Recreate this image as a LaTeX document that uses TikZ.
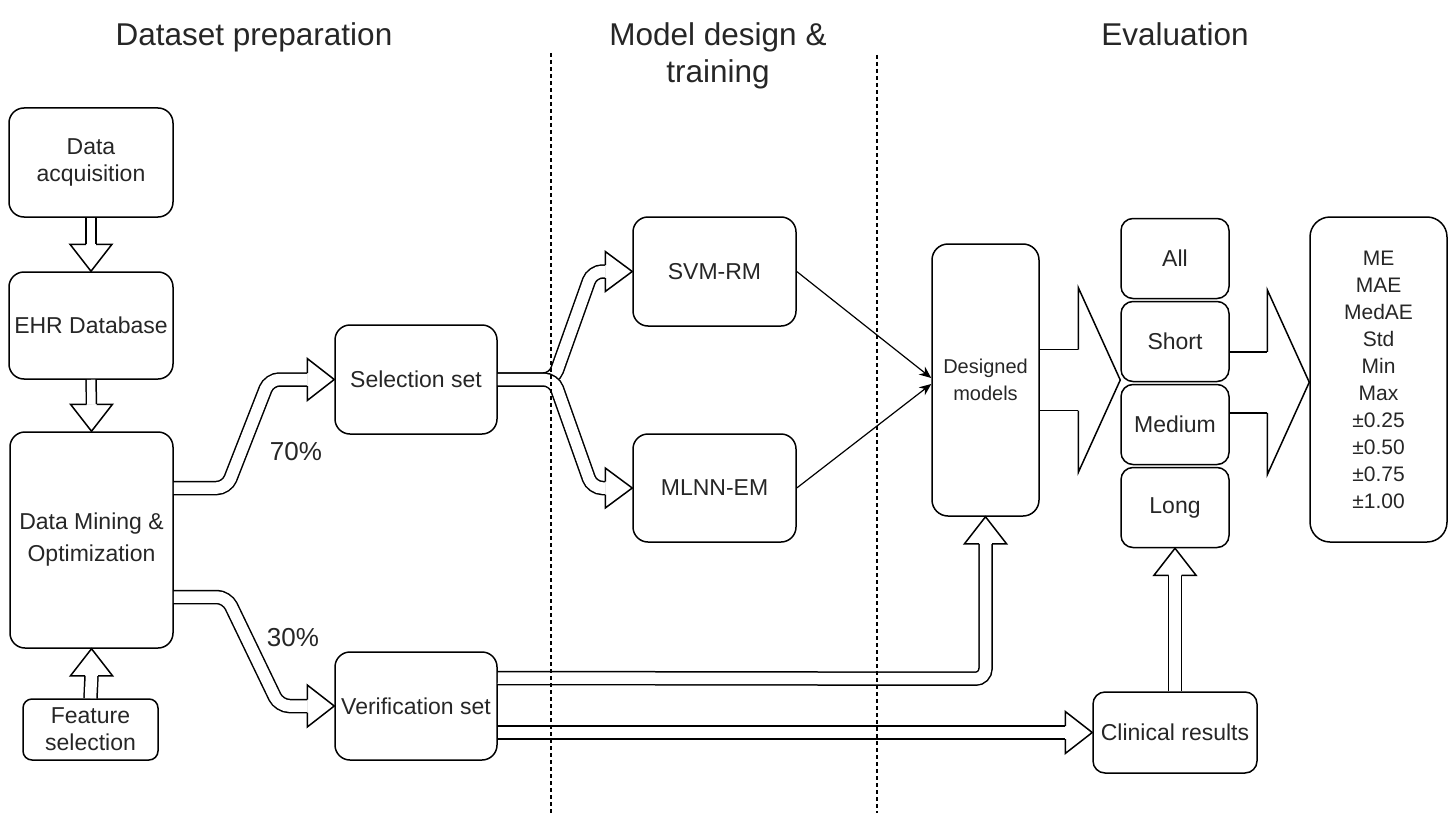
\documentclass[tikz,border=0pt]{standalone}
\usepackage{fontspec}
\setmainfont{Liberation Sans}
\usetikzlibrary{arrows.meta}
\usetikzlibrary{calc}
\usetikzlibrary{chains}
\usetikzlibrary{positioning}

\tikzset{
	pics/flexhead/.style n args={3}{code={
		\fill[white] (0pt,0pt) -- (-#2,#1) -- (-#2,-#1) -- cycle;
		\draw[line join=miter] (-#2,#3) -- (-#2,#1) -- (0pt,0pt) -- (-#2,-#1) -- (-#2,-#3);
	}},
}

\begin{document}
\begin{tikzpicture}[
	x=0.5pt, y=-0.5pt,
	line width=0.75pt,
	start chain=going below,
	node distance=0.75pt,
	box/.style={
		draw,
		rounded corners=7.5pt,
		align=center,
		inner sep=0pt,
		text=black!85,
		font=\fontsize{11.5}{13.5}\selectfont,
	},
	stackbox/.style={
		box,on chain,
		rounded corners=6pt,
		minimum width=54pt,
		minimum height=40pt,
	},
	title/.style={anchor=north,align=center,text=black!85,font=\fontsize{15.75}{18.5}\selectfont},
	share/.style={text=black!85,font=\fontsize{13}{15}\selectfont},
	flex/.style={double=white,double distance=#1,rounded corners=5pt},
	flex/.default=5.75pt,
	wideflex/.style={double=white,double distance=29.75pt},
	link/.style={line width=0.6pt,-{Stealth[length=6pt,width=5pt]}},
	divider/.style={line width=0.6pt,dash pattern=on 2pt off 1.5pt},
]
\useasboundingbox (0,0) rectangle (1450,813);

% column titles
\node[title] (t1) at (254,15) {Dataset preparation};
\node[title] (t2) at (718,15) {Model design \&\\training};
\node[title] (t3) at (1175,15) {Evaluation};

% dataset preparation
\node[box,minimum width=82pt,minimum height=54.5pt] (acq) at (91,162.5) {Data\\acquisition};
\node[box,minimum width=82pt,minimum height=53.5pt] (ehr) at (91,325.5) {EHR Database};
\node[box,minimum width=81.5pt,minimum height=108pt,font=\fontsize{11.5}{16}\selectfont] (mining) at (91.5,540) {Data Mining \&\\Optimization};
\node[box,rounded corners=4.5pt,minimum width=67.5pt,minimum height=30.5pt] (feature) at (90.5,729.5) {Feature\\selection};
\node[box,minimum width=81pt,minimum height=54.5pt] (selset) at (416,379.5) {Selection set};
\node[box,minimum width=81pt,minimum height=54pt] (verset) at (416,706) {Verification set};
\node[share] (p70) at (296,452) {70\%};
\node[share] (p30) at (293,638) {30\%};

% model design
\node[box,minimum width=81.5pt,minimum height=54.5pt] (svm) at (714.5,271.5) {SVM-RM};
\node[box,minimum width=81.5pt,minimum height=54pt] (mlnn) at (714.5,488) {MLNN-EM};

% evaluation
\node[box,rounded corners=8pt,minimum width=53.5pt,minimum height=136pt,font=\fontsize{10}{13.5}\selectfont] (designed) at (985.5,380) {Designed\\models};
\node[stackbox] (all) at (1175,258.5) {All};
\node[stackbox] (short) {Short};
\node[stackbox] (medium) {Medium};
\node[stackbox] (long) {Long};
\node[box,rounded corners=10pt,minimum width=68.5pt,minimum height=162.5pt,font=\fontsize{10.5}{13.5}\selectfont] (metrics) at (1378.5,379.5) {ME\\MAE\\MedAE\\Std\\Min\\Max\\±0.25\\±0.50\\±0.75\\±1.00};
\node[box,rounded corners=6pt,minimum width=82pt,minimum height=40.5pt] (clinical) at (1175,732.5) {Clinical results};

% hollow arrows
\draw[flex=4.25pt] (acq.south) -- ($(ehr.north)+(0,-27)$);
\pic[rotate=-90] at (ehr.north) {flexhead={10.5pt}{13.5pt}{2.5pt}};
\draw[flex=4.25pt] (ehr.south) -- ($(mining.north)+(0,-27)$);
\pic[rotate=-90] at (mining.north) {flexhead={10.5pt}{13.5pt}{2.5pt}};
\draw[flex] (feature.north) -- ($(mining.south)+(0,27)$);
\pic[rotate=90] at (mining.south) {flexhead={10.5pt}{13.5pt}{3.25pt}};

\draw[flex] ($(mining.east)+(0,-52)$) -- ++(53,0) -- ($(selset.west)+(-65,0)$) -- ($(selset.west)+(-27,0)$);
\pic at (selset.west) {flexhead={10.5pt}{13.5pt}{3.25pt}};
\draw[flex] ($(mining.east)+(0,57)$) -- ++(53,0) -- ($(verset.west)+(-55,0)$) -- ($(verset.west)+(-27,0)$);
\pic at (verset.west) {flexhead={10.5pt}{13.5pt}{3.25pt}};

\draw[flex] (selset.east) -- ++(56,0) -- ($(svm.west)+(-40,0)$) -- ($(svm.west)+(-27,0)$);
\pic at (svm.west) {flexhead={10pt}{13.5pt}{3.25pt}};
\draw[flex] (selset.east) -- ++(56,0) -- ($(mlnn.west)+(-40,0)$) -- ($(mlnn.west)+(-27,0)$);
\pic at (mlnn.west) {flexhead={10pt}{13.5pt}{3.25pt}};

\draw[flex] ($(verset.east)+(0,-28)$) -- ($(designed.south)+(0,162)$) -- ($(designed.south)+(0,27)$);
\pic[rotate=90] at (designed.south) {flexhead={10.5pt}{13.5pt}{3.25pt}};
\draw[flex] (verset.east |- clinical.west) -- ($(clinical.west)+(-27,0)$);
\pic at (clinical.west) {flexhead={10.5pt}{13.5pt}{3.25pt}};
\draw[flex] (clinical.north) -- ($(long.south)+(0,27)$);
\pic[rotate=90] at (long.south) {flexhead={10.5pt}{13.5pt}{3.25pt}};

% wide arrows into and out of the stack
\draw[wideflex] (designed.east) -- ($(designed.east -| all.west)+(-42,0)$);
\pic at (designed.east -| all.west) {flexhead={46.25pt}{21pt}{15.25pt}};
\draw[wideflex] (short.south east) -- ($(short.south east -| metrics.west)+(-42,0)$);
\pic at (short.south east -| metrics.west) {flexhead={46.25pt}{21pt}{15.25pt}};

% models into the evaluation
\draw[link] (svm.east) -- ($(designed.west)+(0,-2)$);
\draw[link] (mlnn.east) -- ($(designed.west)+(0,4)$);

% phase separators
\coordinate (cut1) at (551,53);
\coordinate (cut2) at (877,55);
\draw[divider] (cut1) -- (cut1 |- 0,813);
\draw[divider] (cut2) -- (cut2 |- 0,813);
\end{tikzpicture}
\end{document}
